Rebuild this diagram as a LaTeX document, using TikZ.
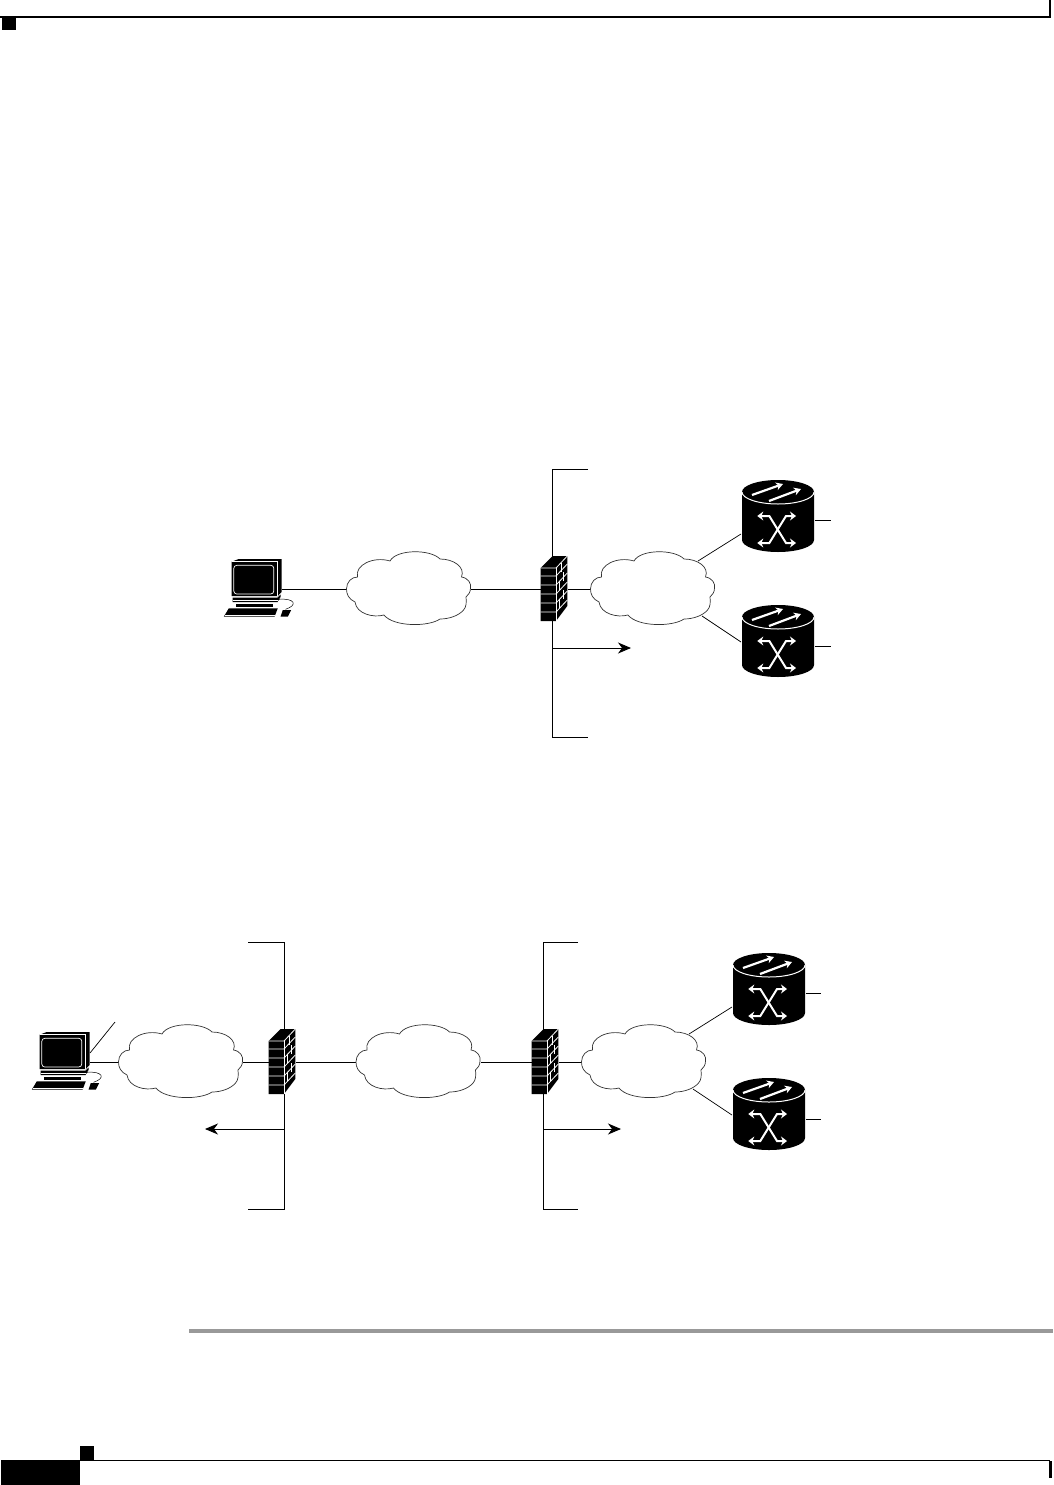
\documentclass[tikz,border=0pt]{standalone}
\usepackage{tikz}
\usetikzlibrary{positioning}
\usetikzlibrary{calc}
\usetikzlibrary{arrows.meta}
\begin{document}
\begin{tikzpicture}
  [
    x=1pt, y=-1pt,
    ln/.style={draw=black, line width=0.9pt},
    ld/.style={ln, -{Stealth[length=13pt,width=11pt,inset=4pt]}},
    anchorbox/.style={inner sep=0pt, outer sep=0pt},
    pcnode/.style={anchorbox, minimum width=51pt, minimum height=60pt},
    cloudnode/.style={anchorbox, minimum width=125pt, minimum height=73pt},
    fwnode/.style={anchorbox, minimum width=27pt, minimum height=64pt},
    routernode/.style={anchorbox, minimum width=72pt, minimum height=72pt},
    wl/.style={draw=white, line width=0.8pt},
    wa/.style={draw=white, line width=2.2pt, -{Stealth[length=7pt,width=8pt]}},
    wx/.style={draw=white, line width=2pt, {Stealth[length=6pt,width=9pt]}-{Stealth[length=6pt,width=9pt]}},
    pics/cloudicon/.style={code={
      \draw [fill=white, draw=black!80, line width=0.7pt]
        (-62,0) .. controls (-62,-7) and (-57,-12) .. (-51,-12)
        .. controls (-54,-24) and (-35,-33) .. (-18.5,-28)
        .. controls (-12,-40) and (22,-40) .. (31.5,-30)
        .. controls (45,-30) and (57,-22) .. (53,-12)
        .. controls (60,-11) and (63,-5) .. (62,-1)
        .. controls (62,3) and (60,6) .. (57.5,8)
        .. controls (58,13) and (58,18) .. (55,21)
        .. controls (50,27) and (40,30) .. (31.5,30)
        .. controls (20,38) and (-15,38) .. (-24.5,26)
        .. controls (-35,29) and (-52,25) .. (-53.5,13)
        .. controls (-60,10) and (-62,5) .. (-62,0) -- cycle;
    }},
    pics/fwicon/.style={code={
      \fill [black] (-13.8,32) -- (-13.8,-21) -- (-2,-33) -- (12.8,-33)
        -- (12.8,17) -- (1.5,32) -- cycle;
      \draw [wl] (-13.8,-21) -- (1.5,-21) -- (12.8,-33);
      \draw [wl] (1.5,-21) -- (1.5,32);
      \foreach \yb in {-13,-4,5,14,23} {
        \draw [wl] (-13.8,\yb) -- (1.5,\yb) -- (12.8,\yb-12);
      }
      \foreach \yb/\xb in {-13/7,-4/9,5/5,14/9,23/5} {
        \draw [wl] (\xb,\yb-4) -- (\xb,\yb-13);
      }
    }},
    pics/routericon/.style={code={
      \fill [black] (-36,-24) arc [start angle=180, end angle=0, x radius=36, y radius=-12]
        -- (36,24) arc [start angle=0, end angle=-180, x radius=36, y radius=-12] -- cycle;
      \draw [wl, line width=1pt] (-36,-24) arc [start angle=180, end angle=360, x radius=36, y radius=-12];
      \draw [wa] (-26,-21) -- (5,-32);
      \draw [wa] (-9,-15) -- (23,-27);
      \draw [wx] (-20.7,0) -- (-8.7,0) -- (8,27) -- (18,27);
      \draw [wx] (-20.7,27) -- (-8.7,27) -- (8,0) -- (18,0);
    }},
    pics/pcicon/.style={code={
      \fill [black] (-25,7) -- (-25,-27.3) -- (-17.7,-30) -- (25,-30)
        -- (25,3) -- (21.3,7) -- cycle;
      \draw [wl] (-25,-27.3) -- (21.3,-27.3) -- (21.3,7);
      \draw [wl, line width=0.7pt, rounded corners=3pt] (-22.7,-23.7) rectangle (17.3,5);
      \fill [black] (-24,8.5) -- (21,8.5) -- (24,5.5) -- (24,8) -- (21,13) -- (-24,13) -- cycle;
      \draw [wl, line width=0.5pt] (-24,11) -- (21.5,11);
      \fill [black] (-21,15) rectangle (16,18);
      \fill [black] (-32.7,27.7) -- (-27.7,19.3) -- (21.3,19.3) -- (18,27.7) -- cycle;
      \draw [wl, line width=0.5pt] (-31.5,26) -- (18.5,26);
      \fill [black] (24,27.7) -- (26.3,21) -- (34.7,21) -- (31.3,27.7) -- cycle;
      \draw [black, line width=0.5pt] (22.3,10.3) .. controls (38,9) and (42,16) .. (29,20.3);
    }}
  ]
  % page furniture
  \fill [black] (0,16.5) rectangle (1049,18);
  \fill [black] (1049,0) rectangle (1051,18);
  \fill [black] (1.5,18) rectangle (16,30);
  \fill [black!40] (189,1329) rectangle (1053,1333);
  \fill [black] (1,1460) rectangle (80,1485);
  \fill [black] (80,1446) rectangle (94,1460);
  \fill [black] (80,1459.5) rectangle (1050,1461);
  \fill [black] (1049,1461) rectangle (1052,1478);

  % upper figure
  \node (pcA)     at (256.5,589) [pcnode] {};
  \node (cloudA)  at (408.5,589) [cloudnode] {};
  \node (fwA)     at (554.5,589) [fwnode] {};
  \node (cloudB)  at (652.5,589) [cloudnode] {};
  \node (routerA) at (778,516) [routernode] {};
  \node (routerB) at (778,641) [routernode] {};
  \coordinate (brTopA) at (588,469);
  \coordinate (brCrnA) at (552.7,469);
  \coordinate (brEndA) at (552.7,737);
  \coordinate (brBotA) at (588,737);
  \coordinate (arrFromA) at (552.7,648);
  \coordinate (arrToA) at (631,648);
  \coordinate (stubA) at (831,520);
  \coordinate (stubB) at (831,646);

  \draw [ln] (brTopA) -- (brCrnA) -- (brEndA) -- (brBotA);
  \draw [ld] (arrFromA) -- (arrToA);
  \draw [ln] (pcA.east) -- (cloudA.west);
  \draw [ln] (cloudA.east) -- (fwA.west);
  \draw [ln] (fwA.east) -- (cloudB.west);
  \draw [ln, line width=0.7pt] ($(cloudB)+(45.5,-28)$) -- ($(routerA)+(-37,18)$);
  \draw [ln, line width=0.7pt] ($(cloudB)+(49.5,27)$) -- ($(routerB)+(-37,1)$);
  \draw [ln] ($(routerA)+(37,4)$) -- (stubA);
  \draw [ln] ($(routerB)+(37,5)$) -- (stubB);
  \pic at (pcA) {pcicon};
  \pic at (cloudA) {cloudicon};
  \pic at (fwA) {fwicon};
  \pic at (cloudB) {cloudicon};
  \pic at (routerA) {routericon};
  \pic at (routerB) {routericon};

  % lower figure
  \node (pcB)     at (64.5,1062) [pcnode] {};
  \node (cloudC)  at (180.5,1062) [cloudnode] {};
  \node (fwB)     at (282.5,1062) [fwnode] {};
  \node (cloudD)  at (418,1062) [cloudnode] {};
  \node (fwC)     at (545.5,1062) [fwnode] {};
  \node (cloudE)  at (643.5,1062) [cloudnode] {};
  \node (routerC) at (769,989) [routernode] {};
  \node (routerD) at (769,1114) [routernode] {};
  \coordinate (brTopB) at (248,942);
  \coordinate (brCrnB) at (284.3,942);
  \coordinate (brEndB) at (284.3,1209);
  \coordinate (brBotB) at (248,1209);
  \coordinate (brTopC) at (578,942);
  \coordinate (brCrnC) at (543,942);
  \coordinate (brEndC) at (543,1209);
  \coordinate (brBotC) at (578,1209);
  \coordinate (arrFromB) at (284.3,1129);
  \coordinate (arrToB) at (205,1129);
  \coordinate (arrFromC) at (543,1129);
  \coordinate (arrToC) at (621,1129);
  \coordinate (stubC) at (821,993);
  \coordinate (stubD) at (821,1119);
  \coordinate (slantB) at (115,1022);

  \draw [ln] (brTopB) -- (brCrnB) -- (brEndB) -- (brBotB);
  \draw [ln] (brTopC) -- (brCrnC) -- (brEndC) -- (brBotC);
  \draw [ld] (arrFromB) -- (arrToB);
  \draw [ld] (arrFromC) -- (arrToC);
  \draw [ln, line width=0.7pt] ($(pcB.east)+(0,-9)$) -- (slantB);
  \draw [ln] (pcB.east) -- (cloudC.west);
  \draw [ln] (cloudC.east) -- (fwB.west);
  \draw [ln] (fwB.east) -- (cloudD.west);
  \draw [ln] (cloudD.east) -- (fwC.west);
  \draw [ln] (fwC.east) -- (cloudE.west);
  \draw [ln, line width=0.7pt] ($(cloudE)+(45.5,-28)$) -- ($(routerC)+(-37,18)$);
  \draw [ln, line width=0.7pt] ($(cloudE)+(49.5,27)$) -- ($(routerD)+(-37,1)$);
  \draw [ln] ($(routerC)+(37,4)$) -- (stubC);
  \draw [ln] ($(routerD)+(37,5)$) -- (stubD);
  \pic at (pcB) {pcicon};
  \pic at (cloudC) {cloudicon};
  \pic at (fwB) {fwicon};
  \pic at (cloudD) {cloudicon};
  \pic at (fwC) {fwicon};
  \pic at (cloudE) {cloudicon};
  \pic at (routerC) {routericon};
  \pic at (routerD) {routericon};

  \useasboundingbox (0,0) rectangle (1053,1485);
\end{tikzpicture}
\end{document}
